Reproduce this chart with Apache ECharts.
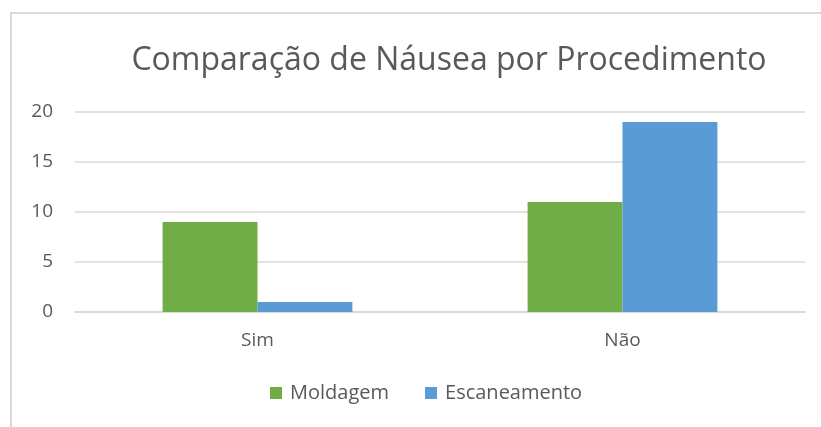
<!DOCTYPE html>
<html>
<head>
<meta charset="utf-8">
<script src="https://cdn.jsdelivr.net/npm/echarts@6/dist/echarts.min.js"></script>
<style>
  html, body { margin: 0; padding: 0; background: #fff; }
  #chart { width: 821px; height: 427px; }
</style>
</head>
<body>
<div id="chart"></div>
<script>
const categories = ['Sim', 'Não'];
const moldagem = [9, 11];
const escaneamento = [1, 19];

const chart = echarts.init(document.getElementById('chart'));
const font = '"Open Sans", "Noto Sans", sans-serif';

chart.setOption({
  animation: false,
  textStyle: { fontFamily: font },
  // moldura do gráfico (estilo Excel)
  graphic: [
    {
      type: 'rect',
      shape: { x: 11, y: 13, width: 840, height: 440 },
      style: { fill: 'none', stroke: '#d9d9d9', lineWidth: 2 },
      silent: true,
    },
  ],
  title: {
    text: 'Comparação de Náusea por Procedimento',
    left: 444,
    textAlign: 'center',
    top: 40,
    textStyle: { fontFamily: font, fontSize: 32, fontWeight: 'normal', color: '#595959' },
  },
  grid: { left: 75, right: 16, top: 112, bottom: 115 },
  legend: {
    bottom: 19,
    left: 265,
    itemWidth: 12,
    itemHeight: 12,
    itemGap: 36,
    icon: 'rect',
    textStyle: { fontFamily: font, fontSize: 20, color: '#595959', padding: [0, 0, 0, 3] },
    data: ['Moldagem', 'Escaneamento'],
  },
  xAxis: {
    type: 'category',
    data: categories,
    axisLine: { lineStyle: { color: '#d9d9d9', width: 2 } },
    axisTick: { show: false },
    axisLabel: { fontSize: 19, color: '#595959', margin: 19 },
  },
  yAxis: {
    type: 'value',
    min: 0,
    max: 20,
    interval: 5,
    axisLine: { show: false },
    axisTick: { show: false },
    axisLabel: { fontSize: 19, color: '#595959', margin: 22 },
    splitLine: { lineStyle: { color: '#d9d9d9', width: 1.5 } },
  },
  series: [
    {
      name: 'Moldagem',
      type: 'bar',
      data: moldagem,
      barWidth: '26%',
      barGap: 0,
      itemStyle: { color: '#70ad47' },
    },
    {
      name: 'Escaneamento',
      type: 'bar',
      data: escaneamento,
      barWidth: '26%',
      itemStyle: { color: '#5b9bd5' },
    },
  ],
});
</script>
</body>
</html>
